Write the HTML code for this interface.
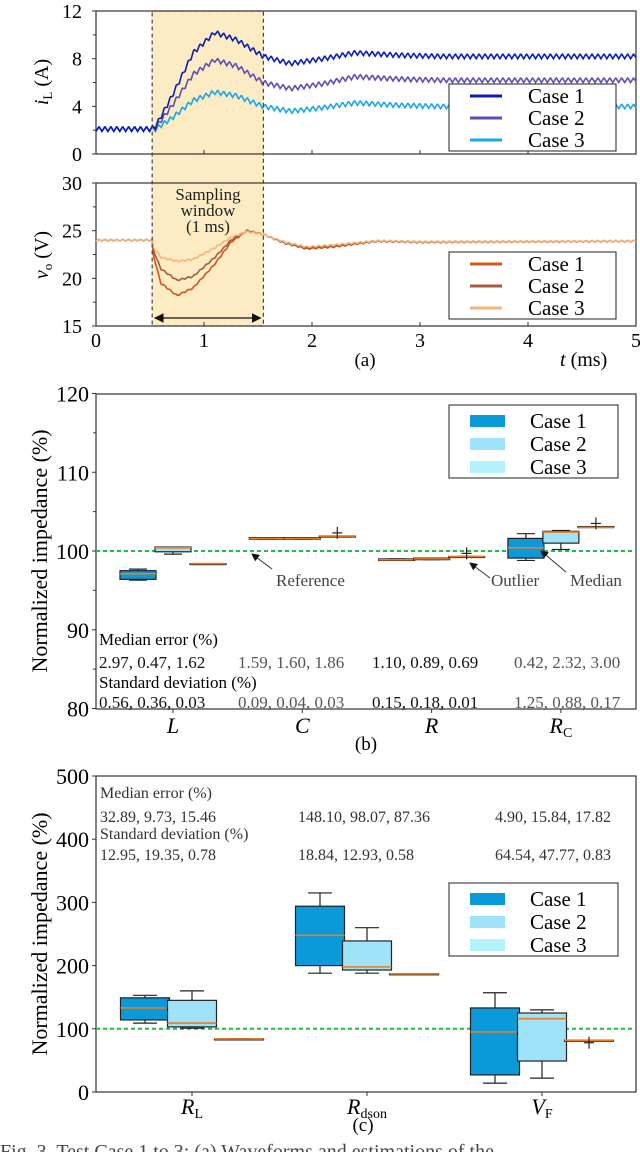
<!DOCTYPE html>
<html><head><meta charset="utf-8">
<style>
html,body{margin:0;padding:0;background:#fff;}
svg{display:block;font-family:"Liberation Serif","DejaVu Serif",serif;}
</style></head>
<body>
<svg id="fig" width="640" height="1152" viewBox="0 0 640 1152" xmlns="http://www.w3.org/2000/svg"></svg>
<script>
// ---------- Panel (a) data ----------
const tIL = [0,0.5,0.55,0.7,0.9,1.1,1.3,1.55,1.8,2.1,2.4,2.8,3.2,5];
const iLCase1 = [2.1,2.1,2.3,4.8,8.5,10.2,9.6,8.2,7.6,8.0,8.5,8.3,8.2,8.2];
const iLCase2 = [2.1,2.1,2.2,4.0,6.7,7.9,7.4,6.0,5.5,5.9,6.5,6.3,6.2,6.2];
const iLCase3 = [2.1,2.1,2.1,3.0,4.5,5.2,4.9,4.0,3.6,3.9,4.3,4.1,4.0,4.0];
const tVO = [0,0.52,0.53,0.6,0.75,0.9,1.1,1.25,1.4,1.55,1.75,1.95,2.2,2.6,3.0,5];
const voCase1 = [24,24,22.5,19.5,18.2,19.0,21.5,23.8,25.0,24.6,23.7,23.1,23.3,23.9,23.8,23.9];
const voCase2 = [24,24,23,21,19.8,20.2,22.2,24.0,25.0,24.6,23.7,23.2,23.4,23.9,23.8,23.9];
const voCase3 = [24,24,23.3,22.2,21.8,22.0,23.2,24.3,24.9,24.6,23.8,23.3,23.5,23.95,23.85,23.9];
const xTicksA = [0,1,2,3,4,5];
const yTicksIL = [0,4,8,12];
const yTicksVO = [15,20,25,30];
// ---------- Panel (b) data: [low whisker, q1, median, q3, high whisker] ----------
const catsB = ["L","C","R","RC"];
const bCase1 = [[96.3,96.4,97.1,97.5,97.7],[101.5,101.5,101.6,101.7,101.7],[98.8,98.8,98.9,99.0,99.0],[98.8,99.1,100.4,101.6,102.2]];
const bCase2 = [[99.6,99.9,100.4,100.5,100.5],[101.5,101.5,101.6,101.7,101.7],[98.9,98.9,99.0,99.1,99.1],[100.2,101.0,102.4,102.5,102.6]];
const bCase3 = [[98.4,98.4,98.4,98.4,98.4],[101.9,101.9,101.9,101.9,101.9],[99.3,99.3,99.3,99.3,99.3],[103.0,103.0,103.0,103.1,103.1]];
const bOutliers = [[1,2,102.3],[2,2,99.7],[3,2,103.5]];
const yTicksB = [80,90,100,110,120];
const medErrB = ["2.97, 0.47, 1.62","1.59, 1.60, 1.86","1.10, 0.89, 0.69","0.42, 2.32, 3.00"];
const stdB = ["0.56, 0.36, 0.03","0.09, 0.04, 0.03","0.15, 0.18, 0.01","1.25, 0.88, 0.17"];
// ---------- Panel (c) data ----------
const catsC = ["RL","Rdson","VF"];
const cCase1 = [[109,114,133,149,153],[188,200,248,294,315],[14,27,95,133,157]];
const cCase2 = [[101,103,109,145,160],[188,193,198,239,260],[22,49,116,125,130]];
const cCase3 = [[84,84,84,84,84],[187,187,187,187,187],[82,82,82,82,82]];
const cOutliers = [[2,2,78]];
const yTicksC = [0,100,200,300,400,500];
const medErrC = ["32.89, 9.73, 15.46","148.10, 98.07, 87.36","4.90, 15.84, 17.82"];
const stdC = ["12.95, 19.35, 0.78","18.84, 12.93, 0.58","64.54, 47.77, 0.83"];

const NS="http://www.w3.org/2000/svg";
const svg=document.getElementById('fig');
function el(tag,attrs,parent){const e=document.createElementNS(NS,tag);for(const k in attrs)e.setAttribute(k,attrs[k]);(parent||svg).appendChild(e);return e;}
function txt(s,attrs){const e=el('text',attrs);e.textContent=s;return e;}

const L=96,R=636;
const xA=t=>L+t*(R-L)/5;
const yIL=v=>154-v*(143/12);
const yVO=v=>326-(v-15)*(143/15);
const yB=v=>551-(v-100)*7.875;
const yC=v=>1092-v*0.632;
const xB=i=>173+i*129.3;
const xC=i=>192+i*175;

// ===== Panel (a) =====
let win=el('rect',{x:xA(0.52),y:11,width:xA(1.55)-xA(0.52),height:315,fill:'#fdebc4'});



function frame(y0,y1,name){const f=el('rect',{x:L,y:y0,width:R-L,height:y1-y0,fill:'none',stroke:'#333','stroke-width':1.2});

}
frame(11,154,'il-axes-frame');
frame(183,326,'vo-axes-frame');

function ripplePath(ts,vs,ys,amp,period){
  let d='';const N=1000;let j=0;
  for(let k=0;k<=N;k++){const t=5*k/N;while(j<ts.length-2&&t>ts[j+1])j++;
    const f=(t-ts[j])/(ts[j+1]-ts[j]);let v=vs[j]+(vs[j+1]-vs[j])*Math.max(0,Math.min(1,f));
    const ph=(t/period)%1;const tri=ph<0.5?(4*ph-1):(3-4*ph);v+=amp*tri;
    d+=(k?'L':'M')+xA(t).toFixed(1)+','+ys(v).toFixed(1);}
  return d;}
const ilSeries=[[iLCase3,'#1aa7ea','il-case3-line'],[iLCase2,'#5b4fb3','il-case2-line'],[iLCase1,'#0b1db8','il-case1-line']];
ilSeries.forEach(s=>{const p=el('path',{d:ripplePath(tIL,s[0],yIL,0.2,0.055),fill:'none',stroke:s[1],'stroke-width':1.6});

});
const voSeries=[[voCase1,'#d4561c','vo-case1-line'],[voCase2,'#a25c40','vo-case2-line'],[voCase3,'#f6b478','vo-case3-line']];
voSeries.forEach(s=>{const p=el('path',{d:ripplePath(tVO,s[0],yVO,0.08,0.055),fill:'none',stroke:s[1],'stroke-width':1.6});

});

let wb=el('rect',{x:xA(0.52),y:11,width:xA(1.55)-xA(0.52),height:315,fill:'none',stroke:'#444','stroke-width':1.2,'stroke-dasharray':'4,3'});


let defs=el('defs',{});
let mk=el('marker',{id:'ah',markerWidth:8,markerHeight:8,refX:7,refY:4,orient:'auto-start-reverse'},defs);
el('path',{d:'M0,0 L8,4 L0,8 Z',fill:'#111'},mk);
let arr=el('line',{x1:xA(0.52)+3,y1:318,x2:xA(1.55)-3,y2:318,stroke:'#111','stroke-width':1.2,'marker-start':'url(#ah)','marker-end':'url(#ah)'});


['Sampling','window','(1 ms)'].forEach((s,i)=>{const t=txt(s,{x:208,y:200+i*16,'font-size':17,'text-anchor':'middle',fill:'#222'});

});

xTicksA.forEach(v=>{[154,326].forEach(yy=>{el('line',{x1:xA(v),y1:yy,x2:xA(v),y2:yy-4,stroke:'#333'});});
const t=txt(String(v),{x:xA(v),y:347,'font-size':20,'text-anchor':'middle'});

});
yTicksIL.forEach(v=>{el('line',{x1:L-4,y1:yIL(v),x2:L,y2:yIL(v),stroke:'#333'});
const t=txt(String(v),{x:82,y:yIL(v)+7,'font-size':20,'text-anchor':'end'});

});
[2,6,10].forEach(v=>el('line',{x1:L-3,y1:yIL(v),x2:L,y2:yIL(v),stroke:'#333'}));
yTicksVO.forEach(v=>{el('line',{x1:L-4,y1:yVO(v),x2:L,y2:yVO(v),stroke:'#333'});
const t=txt(String(v),{x:82,y:yVO(v)+7,'font-size':20,'text-anchor':'end'});

});
[17.5,22.5,27.5].forEach(v=>el('line',{x1:L-3,y1:yVO(v),x2:L,y2:yVO(v),stroke:'#333'}));

let yl1=el('text',{transform:'translate(48,82) rotate(-90)','font-size':20,'text-anchor':'middle'});
yl1.innerHTML='<tspan font-style="italic">i</tspan><tspan font-size="13" dy="4">L</tspan><tspan dy="-4"> (A)</tspan>';


let yl2=el('text',{transform:'translate(48,255) rotate(-90)','font-size':20,'text-anchor':'middle'});
yl2.innerHTML='<tspan font-style="italic">v</tspan><tspan font-size="13" dy="4">o</tspan><tspan dy="-4"> (V)</tspan>';


let xl=el('text',{x:560,y:366,'font-size':20});
xl.innerHTML='<tspan font-style="italic">t</tspan> (ms)';


let pa=txt('(a)',{x:365,y:366,'font-size':19,'text-anchor':'middle'});



function lineLegend(y0,items,name){
  const g=el('g',{});
  
  
  el('rect',{x:449,y:y0,width:167,height:67,fill:'#fff',stroke:'#222','stroke-width':1},g);
  items.forEach((it,i)=>{const yy=y0+12+i*22;
    el('line',{x1:470,y1:yy,x2:502,y2:yy,stroke:it[1],'stroke-width':3},g);
    const t=el('text',{x:528,y:yy+7,'font-size':21},g);t.textContent=it[0];
    
    });
}
lineLegend(84,[['Case 1','#0b1db8'],['Case 2','#5b4fb3'],['Case 3','#1aa7ea']],'il-legend');
lineLegend(252,[['Case 1','#d4561c'],['Case 2','#a25c40'],['Case 3','#f6b478']],'vo-legend');

// ===== Box plots =====
const boxColors=['#0a9ad9','#9fe3fa','#b3f1fd'];
function boxPlot(q,cx,w,ys,name){
  const g=el('g',{});
  
  
  const c=w.c;
  el('line',{x1:cx,y1:ys(q[0]),x2:cx,y2:ys(q[1]),stroke:'#222','stroke-width':1.2},g);
  el('line',{x1:cx,y1:ys(q[3]),x2:cx,y2:ys(q[4]),stroke:'#222','stroke-width':1.2},g);
  el('line',{x1:cx-w.cap,y1:ys(q[0]),x2:cx+w.cap,y2:ys(q[0]),stroke:'#222','stroke-width':1.2},g);
  el('line',{x1:cx-w.cap,y1:ys(q[4]),x2:cx+w.cap,y2:ys(q[4]),stroke:'#222','stroke-width':1.2},g);
  el('rect',{x:cx-w.w/2,y:ys(q[3]),width:w.w,height:Math.max(1,ys(q[1])-ys(q[3])),fill:c,stroke:'#222','stroke-width':1.2},g);
  el('line',{x1:cx-w.w/2,y1:ys(q[2]),x2:cx+w.w/2,y2:ys(q[2]),stroke:'#ee7b1f','stroke-width':1.6},g);
}
function plus(cx,y,name){const g=el('g',{});


el('line',{x1:cx-5,y1:y,x2:cx+5,y2:y,stroke:'#222','stroke-width':1.2},g);el('line',{x1:cx,y1:y-6,x2:cx,y2:y+6,stroke:'#222','stroke-width':1.2},g);}

// ===== Panel (b) =====
frame(394,709,'panel-b-axes-frame');
let refB=el('line',{x1:L,y1:yB(100),x2:R,y2:yB(100),stroke:'#1fbf3f','stroke-width':2,'stroke-dasharray':'4,3'});


const wB={w:36,cap:9};
[bCase1,bCase2,bCase3].forEach((cs,k)=>cs.forEach((q,i)=>{boxPlot(q,xB(i)+(k-1)*35,Object.assign({c:boxColors[k]},wB),yB,'box-b-'+catsB[i]+'-case'+(k+1));}));
bOutliers.forEach(o=>plus(xB(o[0])+(o[1]-1)*35,yB(o[2]),'outlier-marker'));
yTicksB.forEach(v=>{el('line',{x1:L-4,y1:yB(v),x2:L,y2:yB(v),stroke:'#333'});
const t=txt(String(v),{x:89,y:yB(v)+8,'font-size':22,'text-anchor':'end'});

});
[85,95,105,115].forEach(v=>el('line',{x1:L-3,y1:yB(v),x2:L,y2:yB(v),stroke:'#333'}));
const labB=['<tspan font-style="italic">L</tspan>','<tspan font-style="italic">C</tspan>','<tspan font-style="italic">R</tspan>','<tspan font-style="italic">R</tspan><tspan font-size="14" dy="4">C</tspan>'];
labB.forEach((h,i)=>{el('line',{x1:xB(i),y1:709,x2:xB(i),y2:713,stroke:'#333'});
const t=el('text',{x:xB(i),y:733,'font-size':22,'text-anchor':'middle'});t.innerHTML=h;

});
const colB=[99,238,372,514];
let mh=txt('Median error (%)',{x:99,y:645,'font-size':17});


let sh=txt('Standard deviation (%)',{x:99,y:688,'font-size':17});


medErrB.forEach((s,i)=>{const t=txt(s,{x:colB[i],y:668,'font-size':17,fill:i%2?'#555':'#111'});

});
stdB.forEach((s,i)=>{const t=txt(s,{x:colB[i],y:708,'font-size':17,fill:i%2?'#555':'#111'});

});
function annot(label,tx,ty,ax,ay,bx,by){
  const g=el('g',{});
  
  
  el('line',{x1:bx,y1:by,x2:ax,y2:ay,stroke:'#333','stroke-width':1,'marker-end':'url(#ah)'},g);
  const t=el('text',{x:tx,y:ty,'font-size':17,fill:'#444'},g);t.textContent=label;}
annot('Reference',276,586,252,554,272,569);
annot('Outlier',491,586,470,563,490,578);
annot('Median',570,586,541,551,566,572);
let pb=txt('(b)',{x:366,y:750,'font-size':19,'text-anchor':'middle'});



function boxLegend(y0,name){
  const g=el('g',{});
  
  
  el('rect',{x:449,y:y0,width:169,height:73,fill:'#fff',stroke:'#222','stroke-width':1},g);
  ['Case 1','Case 2','Case 3'].forEach((s,i)=>{const yy=y0+16+i*23;
    el('rect',{x:470,y:yy-6,width:35,height:12,fill:boxColors[i]},g);
    const t=el('text',{x:530,y:yy+7,'font-size':21},g);t.textContent=s;
    
    });
}
boxLegend(405,'legend-b');

// ===== Panel (c) =====
frame(776,1092,'panel-c-axes-frame');
let refC=el('line',{x1:L,y1:yC(100),x2:R,y2:yC(100),stroke:'#1fbf3f','stroke-width':2,'stroke-dasharray':'4,3'});


const wC={w:49,cap:12};
[cCase1,cCase2,cCase3].forEach((cs,k)=>cs.forEach((q,i)=>{boxPlot(q,xC(i)+(k-1)*47,Object.assign({c:boxColors[k]},wC),yC,'box-c-'+catsC[i]+'-case'+(k+1));}));
cOutliers.forEach(o=>plus(xC(o[0])+(o[1]-1)*47,yC(o[2]),'outlier-marker'));
yTicksC.forEach(v=>{el('line',{x1:L-4,y1:yC(v),x2:L,y2:yC(v),stroke:'#333'});
const t=txt(String(v),{x:89,y:yC(v)+8,'font-size':22,'text-anchor':'end'});

});
const labC=['<tspan font-style="italic">R</tspan><tspan font-size="14" dy="4">L</tspan>','<tspan font-style="italic">R</tspan><tspan font-size="14" dy="4">dson</tspan>','<tspan font-style="italic">V</tspan><tspan font-size="14" dy="4">F</tspan>'];
labC.forEach((h,i)=>{el('line',{x1:xC(i),y1:1092,x2:xC(i),y2:1096,stroke:'#333'});
const t=el('text',{x:xC(i),y:1114,'font-size':22,'text-anchor':'middle'});t.innerHTML=h;

});
const colC=[100,298,495];
let mh2=txt('Median error (%)',{x:100,y:798,'font-size':16,fill:'#333'});


let sh2=txt('Standard deviation (%)',{x:100,y:839,'font-size':16,fill:'#333'});


medErrC.forEach((s,i)=>{const t=txt(s,{x:colC[i],y:822,'font-size':16,fill:'#333'});

});
stdC.forEach((s,i)=>{const t=txt(s,{x:colC[i],y:860,'font-size':16,fill:'#333'});

});
boxLegend(883,'legend-c');
let pc=txt('(c)',{x:363,y:1131,'font-size':19,'text-anchor':'middle'});



[[551,'b'],[934,'c']].forEach(a=>{const t=txt('Normalized impedance (%)',{transform:'translate(47,'+a[0]+') rotate(-90)','font-size':22,'text-anchor':'middle'});

});

let cap=txt('Fig. 3.   Test Case 1 to 3: (a) Waveforms and estimations of the  ...',{x:0,y:1158,'font-size':20,fill:'#444'});


</script>
</body></html>
